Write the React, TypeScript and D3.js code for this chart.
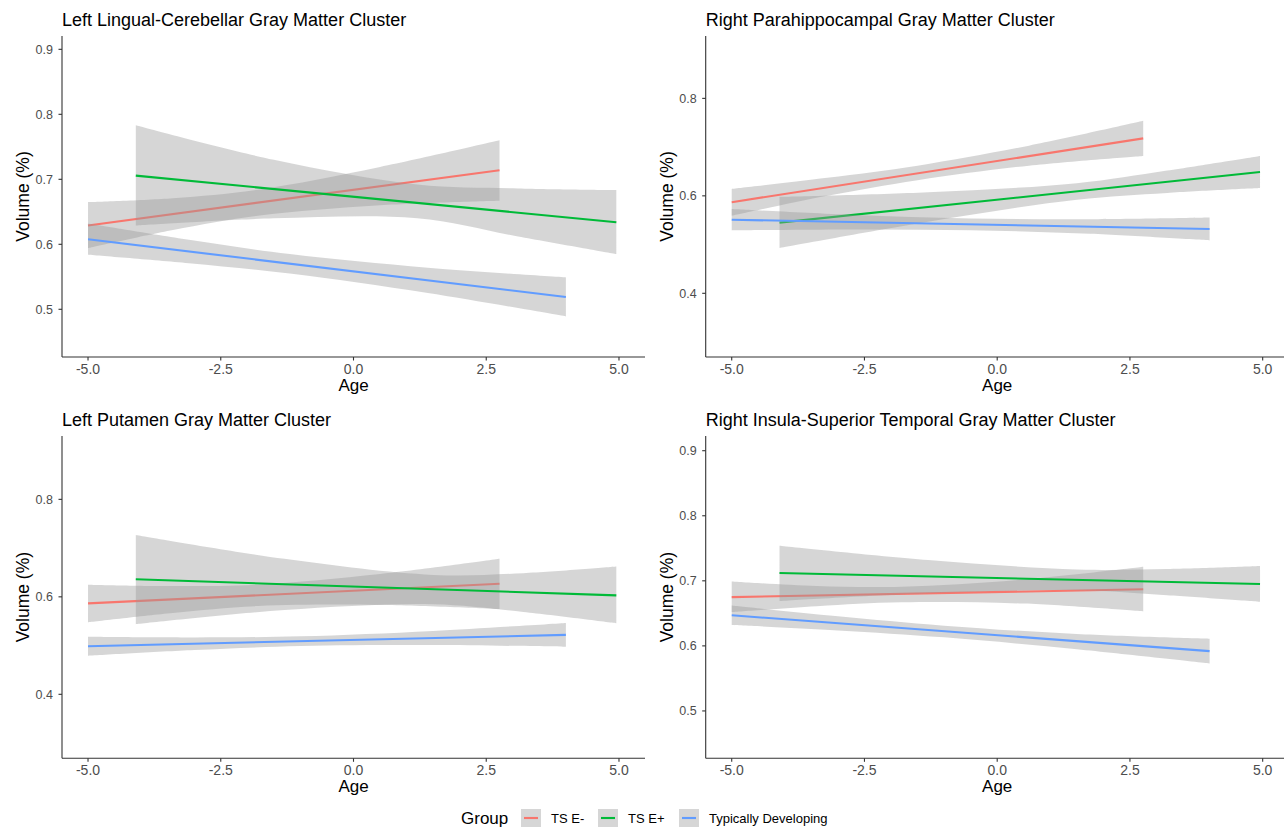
import React from "react";
import { scaleLinear, area, line, curveCatmullRom } from "d3";

// groups and colours (ggplot default hue palette)
const groups = ["TS E-", "TS E+", "Typically Developing"];
const groupColors = ["#F8766D", "#00BA38", "#619CFF"];

const panelTitles = [
  "Left Lingual-Cerebellar Gray Matter Cluster",
  "Right Parahippocampal Gray Matter Cluster",
  "Left Putamen Gray Matter Cluster",
  "Right Insula-Superior Temporal Gray Matter Cluster",
];

const xTicks = [-5, -2.5, 0, 2.5, 5];
const yTicksByPanel = [
  [0.5, 0.6, 0.7, 0.8, 0.9],
  [0.4, 0.6, 0.8],
  [0.4, 0.6, 0.8],
  [0.5, 0.6, 0.7, 0.8, 0.9],
];
const yDomains = [
  [0.4266, 0.9205],
  [0.2693, 0.928],
  [0.2687, 0.93],
  [0.4272, 0.9226],
];

// fitted lines: [start, end] as [age, volume], one per group
const lingualFit = [
  [[-5, 0.629], [2.75, 0.714]],
  [[-4.1, 0.7056], [4.95, 0.634]],
  [[-5, 0.6077], [4, 0.519]],
];
const parahippoFit = [
  [[-5, 0.587], [2.75, 0.718]],
  [[-4.1, 0.545], [4.95, 0.649]],
  [[-5, 0.551], [4, 0.532]],
];
const putamenFit = [
  [[-5, 0.5865], [2.75, 0.627]],
  [[-4.1, 0.636], [4.95, 0.603]],
  [[-5, 0.4985], [4, 0.522]],
];
const insulaFit = [
  [[-5, 0.675], [2.75, 0.687]],
  [[-4.1, 0.712], [4.95, 0.695]],
  [[-5, 0.647], [4, 0.592]],
];

// confidence bands: [age, lower, upper]
const lingualBand = [
  [[-5, 0.594, 0.665], [-3.4, 0.622, 0.671], [-1.8, 0.644, 0.684], [0.5, 0.66, 0.719], [2.75, 0.667, 0.76]],
  [[-4.1, 0.629, 0.783], [-1.5, 0.64, 0.73], [1.2, 0.64, 0.692], [3.1, 0.612, 0.686], [4.95, 0.585, 0.6835]],
  [[-5, 0.584, 0.632], [-3.1, 0.571, 0.607], [-1.2, 0.555, 0.585], [1.4, 0.525, 0.564], [4, 0.489, 0.549]],
];
const parahippoBand = [
  [[-5, 0.559, 0.614], [-3.2, 0.6, 0.637], [-1.5, 0.632, 0.662], [0.6, 0.662, 0.703], [2.75, 0.682, 0.754]],
  [[-4.1, 0.493, 0.598], [-1.3, 0.547, 0.6075], [1.5, 0.592, 0.626], [3.2, 0.606, 0.652], [4.95, 0.616, 0.682]],
  [[-5, 0.529, 0.573], [-2.75, 0.531, 0.561], [-0.5, 0.5295, 0.5535], [1.75, 0.522, 0.552], [4, 0.5085, 0.5555]],
];
const putamenBand = [
  [[-5, 0.548, 0.625], [-3.4, 0.567, 0.622], [-1.8, 0.581, 0.625], [0.5, 0.5835, 0.6467], [2.75, 0.575, 0.678]],
  [[-4.1, 0.544, 0.727], [-1.3, 0.573, 0.678], [1.5, 0.585, 0.645], [3.2, 0.569, 0.6485], [4.95, 0.546, 0.662]],
  [[-5, 0.479, 0.518], [-3, 0.4907, 0.5167], [-1, 0.499, 0.519], [1.5, 0.501, 0.53], [4, 0.4975, 0.5465]],
];
const insulaBand = [
  [[-5, 0.652, 0.699], [-3.4, 0.661, 0.692], [-1.8, 0.667, 0.691], [0.5, 0.665, 0.702], [2.75, 0.653, 0.7215]],
  [[-4.1, 0.669, 0.754], [-1.3, 0.681, 0.732], [1.5, 0.6855, 0.7175], [3.2, 0.678, 0.718], [4.95, 0.668, 0.7226]],
  [[-5, 0.632, 0.662], [-3, 0.6238, 0.6454], [-1, 0.6131, 0.6311], [1.5, 0.5948, 0.6182], [4, 0.573, 0.611]],
];

const fits = [lingualFit, parahippoFit, putamenFit, insulaFit];
const bands = [lingualBand, parahippoBand, putamenBand, insulaBand];

// layout
const W = 1284;
const H = 834;
const FONT = "'Liberation Sans', Arial, Helvetica, sans-serif";
const panelLeft = [62, 705.7, 62, 705.7];
const panelTop = [36, 36, 436, 436];
const panelBottom = [357, 357, 758.3, 758.3];
const plotWidth = 583;
const axisColor = "#333333";
const tickText = "#4D4D4D";

function Panel({ i }: { i: number }) {
  const x0 = panelLeft[i];
  const top = panelTop[i];
  const bottom = panelBottom[i];
  const x = scaleLinear().domain([-5.49, 5.49]).range([x0, x0 + plotWidth]);
  const y = scaleLinear().domain(yDomains[i]).range([bottom, top]);

  const ribbon = area<number[]>()
    .x((d) => x(d[0]))
    .y0((d) => y(d[1]))
    .y1((d) => y(d[2]))
    .curve(curveCatmullRom);
  const path = line<number[]>()
    .x((d) => x(d[0]))
    .y((d) => y(d[1]));

  const midX = x0 + plotWidth / 2;
  const midY = (top + bottom) / 2;

  return (
    <g>
      <text x={x0} y={top - 10} fontSize={18} fill="#000" fontFamily={FONT}>
        {panelTitles[i]}
      </text>
      {groups.map((g, k) => (
        <g key={g}>
          <path d={ribbon(bands[i][k]) || ""} fill="#999999" fillOpacity={0.4} />
          <path d={path(fits[i][k]) || ""} fill="none" stroke={groupColors[k]} strokeWidth={2.1} />
        </g>
      ))}
      {/* axes */}
      <line x1={x0} x2={x0} y1={top} y2={bottom} stroke={axisColor} strokeWidth={1.1} />
      <line x1={x0} x2={x0 + plotWidth} y1={bottom} y2={bottom} stroke={axisColor} strokeWidth={1.1} />
      {yTicksByPanel[i].map((t) => (
        <g key={t}>
          <line x1={x0 - 3.5} x2={x0} y1={y(t)} y2={y(t)} stroke={axisColor} strokeWidth={1.1} />
          <text
            x={x0 - 9}
            y={y(t)}
            dy="0.35em"
            textAnchor="end"
            fontSize={12.5}
            fill={tickText}
            fontFamily={FONT}
          >
            {t.toFixed(1)}
          </text>
        </g>
      ))}
      {xTicks.map((t) => (
        <g key={t}>
          <line x1={x(t)} x2={x(t)} y1={bottom} y2={bottom + 3.5} stroke={axisColor} strokeWidth={1.1} />
          <text x={x(t)} y={bottom + 17} textAnchor="middle" fontSize={14} fill={tickText} fontFamily={FONT}>
            {t.toFixed(1)}
          </text>
        </g>
      ))}
      <text x={midX} y={bottom + 34} textAnchor="middle" fontSize={17} fill="#000" fontFamily={FONT}>
        Age
      </text>
      <text
        transform={`translate(${x0 - 39},${midY}) rotate(-90)`}
        dy="0.35em"
        textAnchor="middle"
        fontSize={17.5}
        fill="#000"
        fontFamily={FONT}
      >
        Volume (%)
      </text>
    </g>
  );
}

const legendKeyX = [521, 598, 679];

function Legend() {
  const cy = 818;
  return (
    <g fontFamily={FONT}>
      <text x={461} y={cy} dy="0.35em" fontSize={17} fill="#000">
        Group
      </text>
      {groups.map((g, k) => (
        <g key={g}>
          <rect x={legendKeyX[k]} y={cy - 9} width={20} height={18} fill="#999999" fillOpacity={0.4} />
          <line
            x1={legendKeyX[k] + 3}
            x2={legendKeyX[k] + 17}
            y1={cy}
            y2={cy}
            stroke={groupColors[k]}
            strokeWidth={2.1}
          />
          <text x={legendKeyX[k] + 30} y={cy} dy="0.35em" fontSize={13} fill="#000">
            {g}
          </text>
        </g>
      ))}
    </g>
  );
}

export default function App() {
  return (
    <div style={{ position: "absolute", left: 0, top: 0 }}>
      <svg width={W} height={H} style={{ display: "block", background: "#fff" }}>
        {[0, 1, 2, 3].map((i) => (
          <Panel key={i} i={i} />
        ))}
        <Legend />
      </svg>
    </div>
  );
}
